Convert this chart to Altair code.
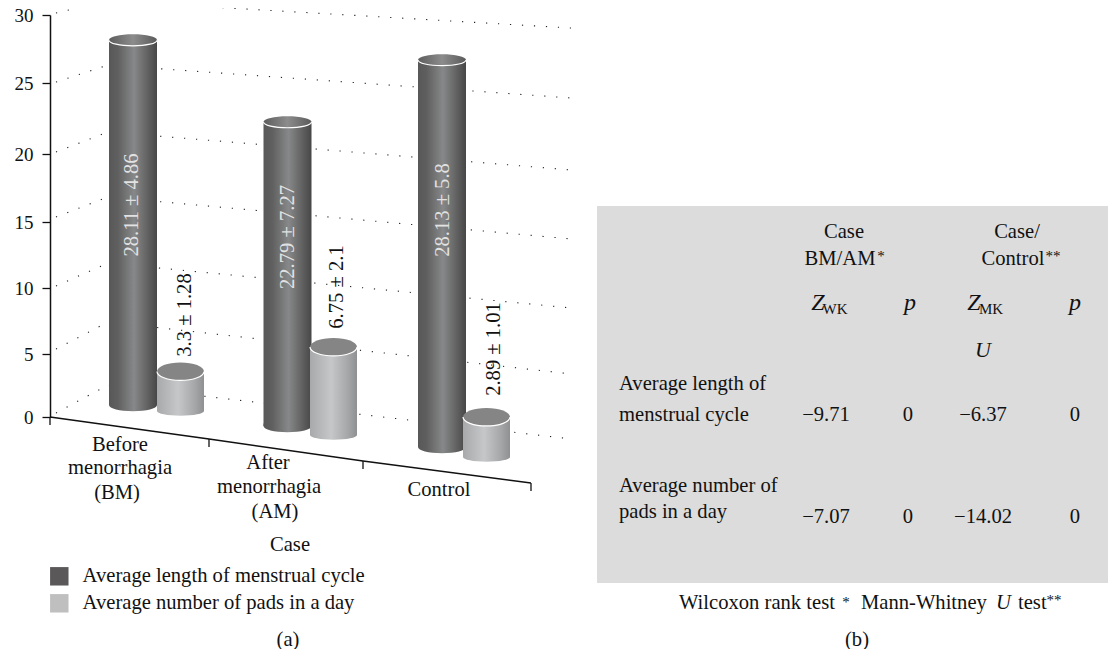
import altair as alt

# ---------- data ----------
categories = ["Before menorrhagia (BM)", "After menorrhagia (AM)", "Control"]
cycle_mean = [28.11, 22.79, 28.13]
cycle_sd = [4.86, 7.27, 5.8]
pads_mean = [3.3, 6.75, 2.89]
pads_sd = [1.28, 2.1, 1.01]
series_names = ["Average length of menstrual cycle", "Average number of pads in a day"]
y_ticks = [0, 5, 10, 15, 20, 25, 30]
# dotted perspective grid, as axis values at the front edge, back corner and right edge
grid_front = [0.32, 5.38, 10.15, 15.37, 20.14, 25.07, 30.15]
grid_corner = [2.54, 7.42, 11.89, 16.84, 21.55, 26.32, 31.03]
grid_right = [-1.75, 3.41, 8.48, 13.71, 18.82, 23.94, 29.04]

row_names = [["Average length of", "menstrual cycle"], ["Average number of", "pads in a day"]]
z_wk = ["\u22129.71", "\u22127.07"]
p_wk = ["0", "0"]
z_mk = ["\u22126.37", "\u221214.02"]
p_mk = ["0", "0"]

# ---------- layout (image pixels; the chart itself starts 8px in) ----------
F = "Liberation Serif"
FS = 20.6
W, H = 1100, 641
def X(v): return v - 8
def Y(v): return v - 8

y_px = [417, 354, 288, 222, 154, 83, 15]
Y_AXIS = alt.Scale(domain=y_ticks, range=[Y(v) for v in y_px], zero=False, nice=False)

def grad(stops):
    return alt.LinearGradient(gradient="linear", x1=0, x2=1, y1=0, y2=0,
                              stops=[alt.GradientStop(color=c, offset=o) for o, c in stops])

DARK_BODY = grad([(0, "#585858"), (0.18, "#5f5f5f"), (0.52, "#878889"), (0.8, "#626262"), (1, "#474747")])
DARK_TOP = grad([(0, "#5d5d5d"), (0.5, "#8c8c8c"), (1, "#5a5a5a")])
LIGHT_BODY = grad([(0, "#a8a9aa"), (0.45, "#c6c7c9"), (0.8, "#a6a7a8"), (1, "#8f9091")])

TOP_DARK = "M-1,0A1,0.24 0 1,1 1,0A1,0.24 0 1,1 -1,0Z"
RIM_DARK = "M-1,0A1,0.24 0 0,0 1,0"
BASE_DARK = "M-1,-0.1L-1,0A1,0.26 0 0,0 1,0L1,-0.1Z"
TOP_LIGHT = "M-1,0A1,0.38 0 1,1 1,0A1,0.38 0 1,1 -1,0Z"
RIM_LIGHT = "M-1,0A1,0.38 0 0,0 1,0"
BASE_LIGHT = "M-1,-0.1L-1,0A1,0.2 0 0,0 1,0L1,-0.1Z"

# (base y, px per unit, label centre y)
dark_geo = [(405, 12.98, 205), (426, 13.34, 237), (447, 13.76, 210)]
light_geo = [(411, 11.97, 315), (435, 13.04, 287), (457, 13.84, 349)]
dark_x = (133, 442)
light_x = (180.5, 486.5)
dark_dx = [-1, 0, 1]
light_dx = [4.5, 3, 7.5]

layers = []

# ---------- panel (b) background ----------
one = alt.Data(values=[{"a": 1}])
layers.append(alt.Chart(one).mark_rect(color="#dcdcdc").encode(
    x=alt.value(X(597)), x2=alt.value(X(1116)), y=alt.value(Y(206)), y2=alt.value(Y(583))))

# ---------- dotted grid with the real y axis ----------
grid_rows = []
for i, lv in enumerate(y_ticks):
    for c, arr in enumerate([grid_front, grid_corner, grid_right]):
        grid_rows.append({"level": lv, "corner": c, "value": arr[i]})
layers.append(alt.Chart(alt.Data(values=grid_rows)).mark_line(
    stroke="#222222", strokeWidth=1.1, strokeDash=[1.2, 10.8]).encode(
    x=alt.X("corner:Q", axis=None, scale=alt.Scale(domain=[0, 1, 2], range=[X(56), X(108), X(572)], nice=False, zero=False)),
    y=alt.Y("value:Q", scale=Y_AXIS, title=None,
            axis=alt.Axis(values=y_ticks, offset=-X(50), tickSize=8, tickWidth=1.3, tickColor="#111111",
                          domainColor="#111111", domainWidth=1.5, labelFont=F, labelFontSize=19,
                          labelColor="#111111", labelPadding=9, grid=False, format="d", labelBound=False)),
    detail="level:N", order="corner:Q"))

# ---------- sloped category axis ----------
boundaries = [{"b": b} for b in range(len(categories) + 1)]
bx = alt.Scale(domain=[0, 1, 2, 3], range=[X(50), X(209), X(363), X(531)], nice=False, zero=False)
by = alt.Scale(domain=[0, 3], range=[Y(417), Y(483)], nice=False, zero=False)
layers.append(alt.Chart(alt.Data(values=boundaries)).mark_line(color="#111111", strokeWidth=1.5).encode(
    x=alt.X("b:Q", axis=None, scale=bx), y=alt.Y("b:Q", axis=None, scale=by)))
layers.append(alt.Chart(alt.Data(values=boundaries)).mark_point(
    shape="M0,0L0,1", size=256, stroke="#111111", strokeWidth=1.3, filled=False, opacity=1).encode(
    x=alt.X("b:Q", axis=None, scale=bx), y=alt.Y("b:Q", axis=None, scale=by)))

# ---------- cylinders ----------
def cylinder(cat, val, label, geo, xr, dx, body, top, top_shape, rim_shape, base_shape, half, text_color):
    base, k, lab_y = geo
    row = alt.Data(values=[{"cat": cat, "value": val, "label": label, "zero": 0}])
    xs = alt.X("cat:N", axis=None, scale=alt.Scale(type="point", domain=categories, range=list(map(X, xr)), padding=0))
    ys = alt.Scale(domain=[0, 30], range=[Y(base), Y(base - 30 * k)], nice=False, zero=False)
    yv = alt.Y("value:Q", axis=None, scale=ys)
    yz = alt.Y("zero:Q", axis=None, scale=ys)
    size = (2 * half) ** 2
    top_y = base - val * k
    # a rotated label's dx/dy act in its own rotated frame
    return [
        alt.Chart(row).mark_point(shape=base_shape, size=size, filled=True, fill=body, opacity=1, strokeWidth=0).encode(x=xs, y=yz),
        alt.Chart(row).mark_bar(size=2 * half, fill=body).encode(x=xs, y=yv),
        alt.Chart(row).mark_point(shape=top_shape, size=size, filled=True, fill=top, opacity=1, strokeWidth=0).encode(x=xs, y=yv),
        alt.Chart(row).mark_point(shape=rim_shape, size=size, filled=False, stroke="white", strokeWidth=1.2, opacity=1).encode(x=xs, y=yv),
        alt.Chart(row).mark_text(angle=270, font=F, fontSize=FS, color=text_color, align="center", baseline="middle",
                                 dy=dx, dx=top_y - lab_y).encode(x=xs, y=yv, text="label:N"),
    ]

for i, cat in enumerate(categories):
    layers += cylinder(cat, cycle_mean[i], f"{cycle_mean[i]} \u00b1 {cycle_sd[i]}", dark_geo[i], dark_x, dark_dx[i],
                       DARK_BODY, DARK_TOP, TOP_DARK, RIM_DARK, BASE_DARK, 24, "#e2e2e2")
    layers += cylinder(cat, pads_mean[i], f"{pads_mean[i]} \u00b1 {pads_sd[i]}", light_geo[i], light_x, light_dx[i],
                       LIGHT_BODY, "#858585", TOP_LIGHT, RIM_LIGHT, BASE_LIGHT, 23.5, "#111111")

# ---------- legend ----------
layers.append(alt.Chart(alt.Data(values=[{"s": s} for s in series_names])).mark_point(
    filled=True, opacity=0).encode(
    x=alt.value(-50), y=alt.value(-50),
    color=alt.Color("s:N", scale=alt.Scale(domain=series_names, range=["#5a5859", "#c0bfc0"]),
                    legend=alt.Legend(orient="none", legendX=X(49), legendY=Y(566), title=None, padding=0,
                                      symbolType="square", symbolSize=340, symbolOpacity=1, symbolStrokeWidth=0,
                                      labelFont=F, labelFontSize=FS, labelColor="#111111",
                                      labelOffset=13, rowPadding=6, labelLimit=400))))

# ---------- free text ----------
def txt(s, x, y, size=FS, align="center", style="normal", color="#111111"):
    return alt.Chart(alt.Data(values=[{"t": s}])).mark_text(
        font=F, fontSize=size, align=align, baseline="middle", fontStyle=style, color=color).encode(
        x=alt.value(X(x)), y=alt.value(Y(y)), text="t:N")

for s, x, y in [("Before", 120, 445), ("menorrhagia", 120, 468), ("(BM)", 117, 493),
                ("After", 268, 463), ("menorrhagia", 269, 487), ("(AM)", 275, 512),
                ("Control", 439, 490), ("Case", 290, 545), ("(a)", 288, 640), ("(b)", 857, 640)]:
    layers.append(txt(s, x, y))

for s, x, y in [("Case", 844, 232), ("BM/AM", 840, 259), ("Case/", 1017, 232), ("Control", 1013, 259)]:
    layers.append(txt(s, x, y))
layers += [txt("*", 881, 256, 15), txt("**", 1053, 256, 15)]
layers += [txt("Z", 818, 303, 24, style="italic"), txt("WK", 835, 309, 15),
           txt("p", 910, 303, 24, style="italic"),
           txt("Z", 974, 303, 24, style="italic"), txt("MK", 991, 309, 15),
           txt("p", 1075, 303, 24, style="italic"),
           txt("U", 983, 350, 22, style="italic")]

for names, ys in zip(row_names, [(384, 415), (486, 512)]):
    for s, y in zip(names, ys):
        layers.append(txt(s, 619, y, align="left"))

cells = []
for r in range(2):
    for c, col in enumerate([z_wk, p_wk, z_mk, p_mk]):
        cells.append({"r": r, "c": c, "t": col[r]})
layers.append(alt.Chart(alt.Data(values=cells)).mark_text(font=F, fontSize=FS, color="#111111", baseline="middle").encode(
    x=alt.X("c:Q", axis=None, scale=alt.Scale(domain=[0, 1, 2, 3], range=[X(826), X(908), X(983), X(1075)], nice=False, zero=False)),
    y=alt.Y("r:Q", axis=None, scale=alt.Scale(domain=[0, 1], range=[Y(415), Y(517)], nice=False, zero=False)),
    text="t:N"))

layers += [txt("Wilcoxon rank test", 679, 603, align="left"), txt("*", 846, 602, 15),
           txt("Mann-Whitney", 861, 603, align="left"), txt("U", 996, 603, align="left", style="italic"),
           txt("test", 1018, 603, align="left"), txt("**", 1054, 600, 15)]

chart = alt.layer(*layers).resolve_scale(x="independent", y="independent", color="independent").properties(
    width=W, height=H, padding=0, autosize=alt.AutoSizeParams(type="none"),
    background="white").configure_view(stroke=None)

chart.save("out.html", embed_options={"renderer": "svg", "actions": False})
